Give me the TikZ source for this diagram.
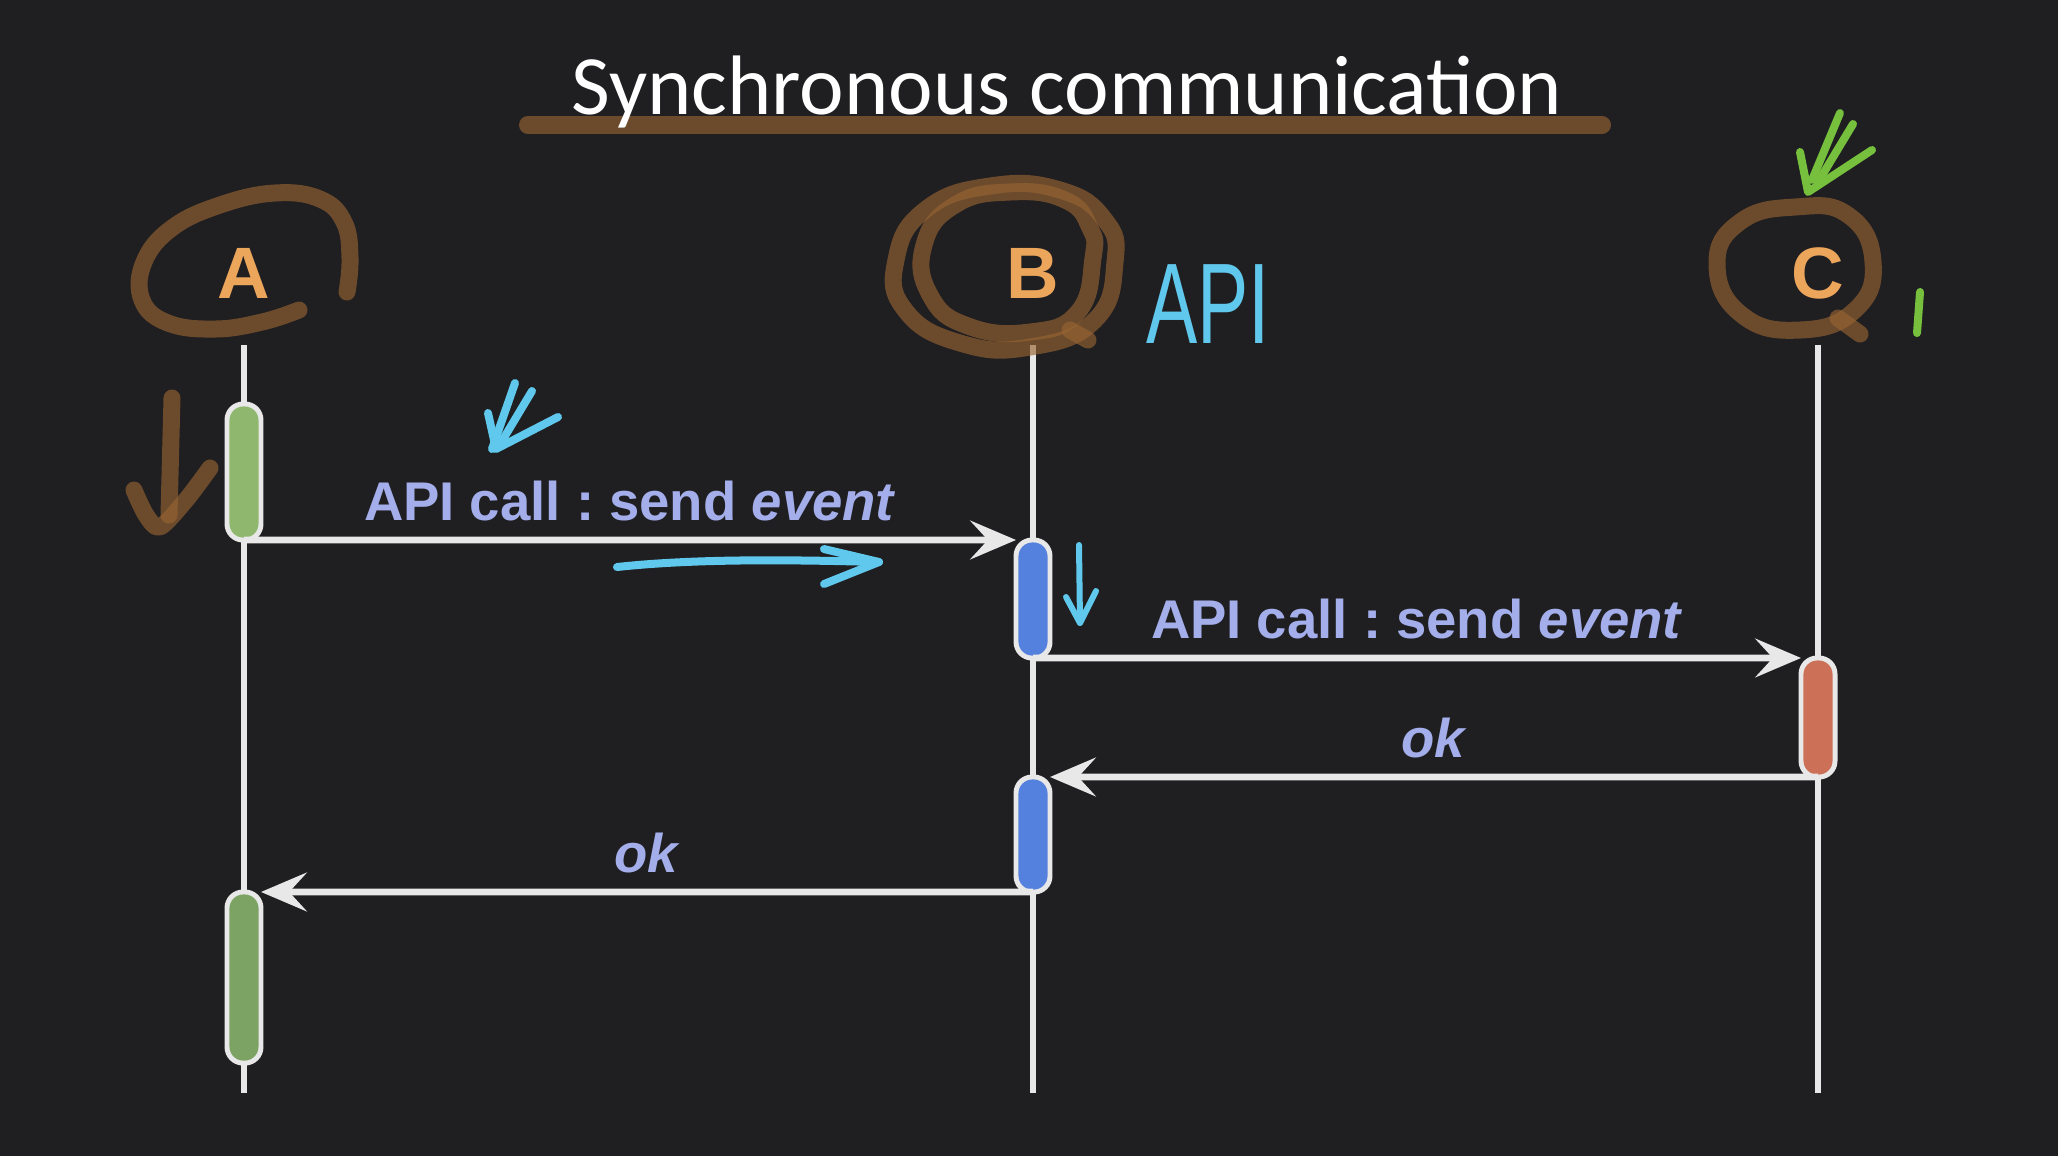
\documentclass[tikz,border=0pt]{standalone}
\usepackage{fontspec}
\usetikzlibrary{arrows.meta,positioning,calc}
\newfontfamily\lblfont{Liberation Sans}
\newfontfamily\ttlfont{Carlito}
\frenchspacing
\definecolor{BgDark}{RGB}{31,30,33}
\definecolor{LifeGray}{RGB}{232,232,232}
\definecolor{LblBlue}{RGB}{163,174,234}
\definecolor{HeadOrange}{RGB}{236,166,92}
\definecolor{InkBrown}{RGB}{150,100,50}
\definecolor{InkCyan}{RGB}{96,200,236}
\definecolor{InkGreen}{RGB}{118,192,62}
\definecolor{BarGreen}{RGB}{143,184,110}
\definecolor{BarGreenDk}{RGB}{124,163,100}
\definecolor{BarBlue}{RGB}{84,128,222}
\definecolor{BarRed}{RGB}{204,112,88}
\tikzset{
    head/.style={font=\lblfont\bfseries\fontsize{20.7}{24}\selectfont, text=HeadOrange, minimum height=1.42cm, inner sep=0pt},
    life/.style={draw=LifeGray, line width=1.9pt},
    actbar/.style={draw=LifeGray, line width=1.4pt, rounded corners=0.16cm, minimum width=0.34cm, inner sep=0pt, outer sep=0pt},
    msg/.style={draw=LifeGray, line width=1.9pt, -{Stealth[length=13pt,width=11pt,inset=5pt]}},
    msglbl/.style={font=\lblfont\bfseries\fontsize{15.5}{18}\selectfont, text=LblBlue, above, yshift=1pt},
    ink/.style={line width=#1, line cap=round, line join=round},
    ink/.default=0.17cm,
    brownink/.style={ink, draw=InkBrown, opacity=0.65},
}
\begin{document}
\begin{tikzpicture}[x=0.01cm, y=-0.01cm]
\fill[BgDark, use as bounding box] (0,0) rectangle (2058,1156);

% title
\draw[brownink, line width=0.18cm] (528,125) -- (1602,125);
\node[font=\ttlfont\fontsize{24}{28}\selectfont, text=white] (title) at (1067,92) {Synchronous communication};

% participants and lifelines
\node[head] (A) at (244,273) {A};
\node[head] (B) at (1033,273) {B};
\node[head] (C) at (1818,273) {C};
\coordinate (bot) at (0,1093);
\foreach \h in {A,B,C}
    \draw[life] (\h.south) -- (\h.south |- bot);

% activation bars
\node[actbar, fill=BarGreen, minimum height=1.36cm] (a1) at (244,472) {};
\node[actbar, fill=BarBlue, minimum height=1.18cm] (b1) at (1033,599) {};
\node[actbar, fill=BarRed, minimum height=1.19cm] (c1) at (1818,717.5) {};
\node[actbar, fill=BarBlue, minimum height=1.15cm] (b2) at (1033,834.5) {};
\node[actbar, fill=BarGreenDk, minimum height=1.71cm] (a2) at (244,977.5) {};

% messages
\draw[msg] (a1.south) -- node[msglbl] {API call : send \textit{event}} (b1.north west);
\draw[msg] (b1.south) -- node[msglbl] {API call : send \textit{event}} (c1.north west);
\draw[msg] (c1.south) -- node[msglbl] {\textit{ok}} (b2.north east);
\draw[msg] (b2.south) -- node[msglbl] {\textit{ok}} (a2.north east);

% scribbles
\draw[brownink] plot[smooth, tension=0.7] coordinates {(299,310) (262,322) (215,329) (168,323) (142,300) (144,262) (172,228) (220,205) (275,193) (320,199) (344,222) (350,258) (347,292)};
\draw[brownink] (172,398) -- (169,515);
\draw[brownink] plot[smooth] coordinates {(134,490) (146,515) (160,527) (186,500) (210,468)};
\draw[brownink] plot[smooth cycle, tension=0.8] coordinates {(1115,262) (1095,320) (1030,347) (960,343) (905,310) (896,260) (925,210) (990,186) (1060,190) (1105,220)};
\draw[brownink] plot[smooth cycle, tension=0.8] coordinates {(1093,258) (1078,312) (1030,332) (968,326) (930,295) (924,245) (955,205) (1010,192) (1065,200) (1090,228)};
\draw[brownink] (1070,330) -- (1088,340);
\draw[brownink] plot[smooth cycle, tension=0.8] coordinates {(1873,262) (1855,310) (1800,330) (1742,315) (1717,265) (1740,222) (1795,207) (1848,215)};
\draw[brownink] (1838,318) -- (1860,334);

\draw[ink=0.08cm, InkGreen] (1840,113) -- (1812,180);
\draw[ink=0.08cm, InkGreen] (1853,124) -- (1818,182);
\draw[ink=0.08cm, InkGreen] (1800,152) -- (1808,192) -- (1872,150);
\draw[ink=0.08cm, InkGreen] (1920,292) -- (1917,333);

\draw[ink=0.08cm, InkCyan] (515,383) -- (492,449);
\draw[ink=0.08cm, InkCyan] (532,391) -- (499,446);
\draw[ink=0.08cm, InkCyan] (488,413) -- (496,449) -- (558,417);
\draw[ink=0.08cm, InkCyan] (617,567) .. controls (700,558) and (800,560) .. (879,562);
\draw[ink=0.08cm, InkCyan] (824,549) -- (879,562) -- (824,584);
\draw[ink=0.06cm, InkCyan] (1079,545) -- (1080,623);
\draw[ink=0.06cm, InkCyan] (1066,597) -- (1080,623) -- (1096,591);
\node[text=InkCyan, font=\lblfont\fontsize{32.6}{36}\selectfont, inner sep=0pt] (api) at (1208,304) {\scalebox{0.67}[1]{API}};
\end{tikzpicture}
\end{document}
